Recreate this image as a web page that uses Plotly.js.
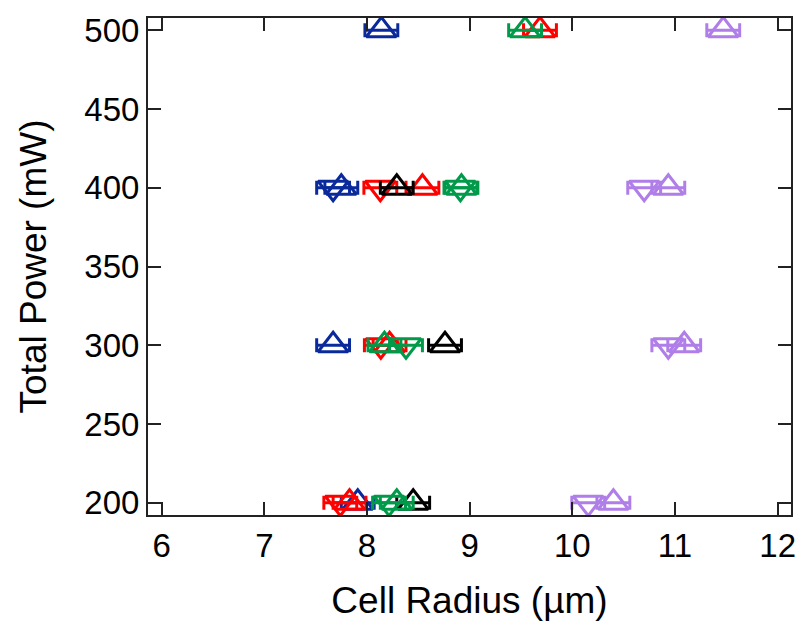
<!DOCTYPE html>
<html>
<head>
<meta charset="utf-8">
<script src="https://cdn.plot.ly/plotly-3.0.1.min.js"></script>
<style>html,body{margin:0;padding:0;background:#fff;}#chart{width:801px;height:621px;}</style>
</head>
<body>
<div id="chart"></div>
<script>
// Total power levels (mW)
var blueUpY = [500, 400, 300, 200];
var blueUpX = [8.14, 7.75, 7.67, 7.91];
var blueDownY = [400];
var blueDownX = [7.67];

var redUpY = [500, 400, 300, 200];
var redUpX = [9.685, 8.54, 8.22, 7.83];
var redDownY = [400, 300, 200];
var redDownX = [8.13, 8.135, 7.74];

var blackUpY = [400, 300, 200];
var blackUpX = [8.29, 8.76, 8.45];

var greenUpY = [500, 400, 300, 200];
var greenUpX = [9.54, 8.92, 8.17, 8.29];
var greenDownY = [400, 300, 200];
var greenDownX = [8.91, 8.38, 8.215];

var purpleUpY = [500, 400, 300, 200];
var purpleUpX = [11.47, 10.935, 11.09, 10.40];
var purpleDownY = [400, 300, 200];
var purpleDownX = [10.70, 10.935, 10.155];

var xErr = 0.16;

var xTickVals = [6, 7, 8, 9, 10, 11, 12];
var yTickVals = [200, 250, 300, 350, 400, 450, 500];

var BLUE = '#0a2a9c', RED = '#ff0000', BLACK = '#000000', GREEN = '#009a4a', PURPLE = '#b07ee8';

function tr(x, y, color, symbol) {
  return {
    x: x, y: y, type: 'scatter', mode: 'markers',
    marker: {symbol: symbol, size: 26, color: color, line: {color: color, width: 3}},
    error_x: {type: 'data', array: x.map(function(){return xErr;}), visible: true, color: color, thickness: 3, width: 7},
    showlegend: false, hoverinfo: 'x+y'
  };
}

var data = [
  tr(blueUpX, blueUpY, BLUE, 'triangle-up-open'),
  tr(blueDownX, blueDownY, BLUE, 'triangle-down-open'),
  tr(redUpX, redUpY, RED, 'triangle-up-open'),
  tr(redDownX, redDownY, RED, 'triangle-down-open'),
  tr(blackUpX, blackUpY, BLACK, 'triangle-up-open'),
  tr(greenUpX, greenUpY, GREEN, 'triangle-up-open'),
  tr(greenDownX, greenDownY, GREEN, 'triangle-down-open'),
  tr(purpleUpX, purpleUpY, PURPLE, 'triangle-up-open'),
  tr(purpleDownX, purpleDownY, PURPLE, 'triangle-down-open')
];

var FONT = 'Liberation Sans, Arial, sans-serif';
var layout = {
  width: 801, height: 621,
  margin: {l: 148, r: 10, t: 18, b: 106, pad: 0},
  paper_bgcolor: '#fff', plot_bgcolor: '#fff',
  showlegend: false,
  font: {family: FONT, color: '#000'},
  xaxis: {
    range: [5.867, 12.13],
    tickvals: xTickVals, ticktext: xTickVals.map(String),
    ticks: 'inside', ticklen: 13, tickwidth: 2, tickcolor: '#222',
    showline: true, linecolor: '#222', linewidth: 2, mirror: 'ticks',
    showgrid: false, zeroline: false,
    tickfont: {family: FONT, size: 33, color: '#000'},
    title: {text: 'Cell Radius (µm)', font: {family: FONT, size: 37, color: '#000'}, standoff: 28},
    automargin: false
  },
  yaxis: {
    range: [192.2, 507.8],
    tickvals: yTickVals, ticktext: yTickVals.map(String),
    ticks: 'inside', ticklen: 13, tickwidth: 2, tickcolor: '#222',
    showline: true, linecolor: '#222', linewidth: 2, mirror: 'ticks',
    showgrid: false, zeroline: false,
    tickfont: {family: FONT, size: 33, color: '#000'},
    title: {text: 'Total Power (mW)', font: {family: FONT, size: 37, color: '#000'}, standoff: 26},
    automargin: false
  }
};

Plotly.newPlot('chart', data, layout, {staticPlot: true, displayModeBar: false});
</script>
</body>
</html>
